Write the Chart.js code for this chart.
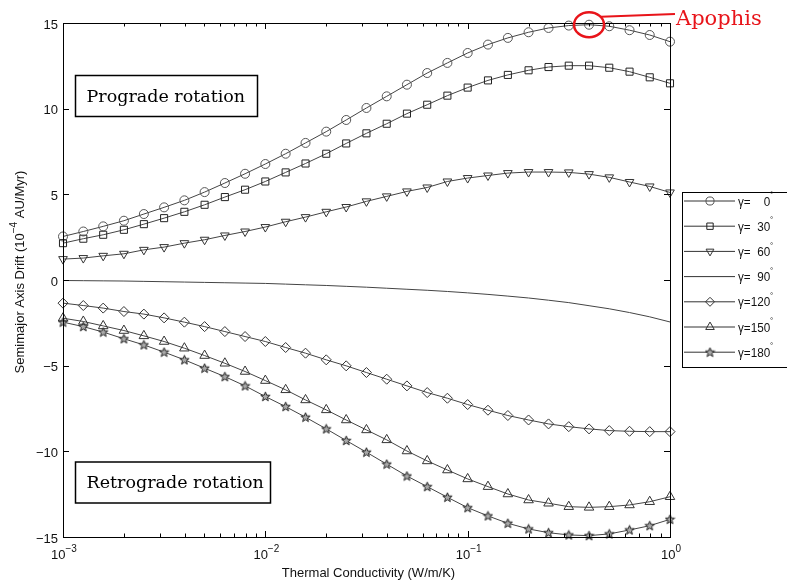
<!DOCTYPE html>
<html>
<head>
<meta charset="utf-8">
<script src="https://cdn.jsdelivr.net/npm/chart.js@4.4.0/dist/chart.umd.min.js"></script>
<style>html,body{margin:0;padding:0;background:#fff}</style>
</head>
<body>
<canvas id="myChart" width="787" height="581"></canvas>
<script>
// thermal conductivity samples (W/m/K)
const conductivity = [0.001, 0.00126, 0.00158, 0.002, 0.00251, 0.00316, 0.00398, 0.00501, 0.00631, 0.00794,
  0.01, 0.0126, 0.0158, 0.02, 0.0251, 0.0316, 0.0398, 0.0501, 0.0631, 0.0794,
  0.1, 0.126, 0.158, 0.2, 0.251, 0.316, 0.398, 0.501, 0.631, 0.794, 1];

const gamma0 = [2.54, 2.83, 3.13, 3.46, 3.85, 4.24, 4.65, 5.13, 5.66, 6.2,
  6.77, 7.37, 8.0, 8.66, 9.34, 10.04, 10.72, 11.4, 12.08, 12.67,
  13.25, 13.74, 14.13, 14.46, 14.71, 14.85, 14.9, 14.81, 14.58, 14.3, 13.91];
const gamma30 = [2.15, 2.41, 2.64, 2.93, 3.26, 3.61, 3.98, 4.39, 4.84, 5.27,
  5.75, 6.28, 6.8, 7.37, 7.97, 8.56, 9.12, 9.71, 10.23, 10.76,
  11.23, 11.65, 11.97, 12.24, 12.43, 12.51, 12.51, 12.39, 12.16, 11.83, 11.48];
const gamma60 = [1.22, 1.28, 1.41, 1.53, 1.76, 1.92, 2.15, 2.35, 2.6, 2.83,
  3.09, 3.4, 3.67, 3.98, 4.26, 4.59, 4.88, 5.17, 5.4, 5.75,
  5.95, 6.1, 6.24, 6.3, 6.3, 6.28, 6.18, 5.99, 5.72, 5.46, 5.11];
const gamma90 = [-0.03, -0.04, -0.05, -0.06, -0.08, -0.1, -0.12, -0.14, -0.16, -0.18,
  -0.2, -0.24, -0.28, -0.32, -0.37, -0.42, -0.48, -0.54, -0.6, -0.67,
  -0.75, -0.84, -0.94, -1.05, -1.18, -1.32, -1.5, -1.68, -1.9, -2.15, -2.45];
const gamma120 = [-1.35, -1.49, -1.64, -1.84, -1.99, -2.21, -2.46, -2.72, -3.01, -3.3,
  -3.59, -3.94, -4.27, -4.66, -5.01, -5.4, -5.79, -6.18, -6.57, -6.9,
  -7.27, -7.6, -7.91, -8.17, -8.4, -8.56, -8.69, -8.79, -8.83, -8.85, -8.85];
const gamma150 = [-2.23, -2.42, -2.68, -2.95, -3.26, -3.59, -3.98, -4.41, -4.86, -5.34,
  -5.87, -6.41, -7.0, -7.58, -8.17, -8.75, -9.33, -9.98, -10.56, -11.09,
  -11.61, -12.06, -12.49, -12.84, -13.03, -13.23, -13.27, -13.23, -13.13, -12.94, -12.65];
const gamma180 = [-2.46, -2.72, -3.04, -3.43, -3.79, -4.21, -4.66, -5.15, -5.64, -6.18,
  -6.8, -7.39, -8.01, -8.69, -9.37, -10.05, -10.75, -11.44, -12.06, -12.68,
  -13.29, -13.77, -14.2, -14.53, -14.75, -14.88, -14.92, -14.82, -14.59, -14.34, -13.97];

const gammaLabels = ["0", "30", "60", "90", "120", "150", "180"];
const xTicks = [0.001, 0.01, 0.1, 1];
const xTickExp = ["\u22123", "\u22122", "\u22121", "0"];
const yTicks = [-15, -10, -5, 0, 5, 10, 15];
const apophisK = 0.398;
const apophisDrift = 14.9;

const SANS = '"Liberation Sans", Arial, sans-serif';
const SERIF = '"DejaVu Serif", serif';

// pentagram marker
const starImg = document.createElement("canvas");
starImg.width = 11; starImg.height = 11;
(function () {
  const c = starImg.getContext("2d");
  c.beginPath();
  for (let k = 0; k < 10; k++) {
    const r = k % 2 ? 2.1 : 4.9;
    const a = -Math.PI / 2 + k * Math.PI / 5;
    const px = 5.5 + r * Math.cos(a), py = 5.8 + r * Math.sin(a);
    k ? c.lineTo(px, py) : c.moveTo(px, py);
  }
  c.closePath();
  c.fillStyle = "#aaa";
  c.fill();
  c.strokeStyle = "#222";
  c.lineWidth = 1;
  c.stroke();
})();

function pts(arr) {
  return arr.map((v, i) => ({ x: conductivity[i], y: v }));
}

function series(values, idx, style, color, radius, rot) {
  return {
    label: "\u03b3=" + gammaLabels[idx],
    data: pts(values),
    borderColor: "#444",
    borderWidth: 1,
    pointStyle: style,
    pointRadius: radius,
    pointRotation: rot || 0,
    pointBorderColor: color,
    pointBackgroundColor: "rgba(0,0,0,0)",
    pointBorderWidth: 1,
    tension: 0,
    clip: false
  };
}

const datasets = [
  series(gamma0, 0, "circle", "#555", 4.5),
  series(gamma30, 1, "rect", "#222", 5),
  series(gamma60, 2, "triangle", "#333", 5, 180),
  series(gamma90, 3, "circle", "#444", 0),
  series(gamma120, 4, "rectRot", "#333", 5),
  series(gamma150, 5, "triangle", "#333", 5.5),
  series(gamma180, 6, starImg, "#333", 5)
];

function supText(ctx, base, sup, x, y, align) {
  ctx.font = "13px " + SANS;
  const w1 = ctx.measureText(base).width;
  ctx.font = "10px " + SANS;
  const w2 = ctx.measureText(sup).width;
  let x0 = align === "center" ? x - (w1 + w2) / 2 : x;
  ctx.textAlign = "left";
  ctx.textBaseline = "alphabetic";
  ctx.font = "13px " + SANS;
  ctx.fillText(base, x0, y);
  ctx.font = "10px " + SANS;
  ctx.fillText(sup, x0 + w1, y - 7);
}

const axesPlugin = {
  id: "matlabAxes",
  afterDatasetsDraw(chart) {
    const { ctx, chartArea: a, scales } = chart;
    const xs = scales.x, ys = scales.y;
    ctx.save();
    ctx.strokeStyle = "#000";
    ctx.lineWidth = 1;
    ctx.strokeRect(a.left + 0.5, a.top + 0.5, a.right - a.left, a.bottom - a.top);
    ctx.beginPath();
    // log ticks, top and bottom
    for (let d = 0; d < 3; d++) {
      for (let m = 1; m <= 10; m++) {
        const v = xTicks[d] * m;
        const px = Math.round(xs.getPixelForValue(v)) + 0.5;
        const len = (m === 1 || m === 10) ? 6 : 3.5;
        ctx.moveTo(px, a.bottom); ctx.lineTo(px, a.bottom - len);
        ctx.moveTo(px, a.top); ctx.lineTo(px, a.top + len);
      }
    }
    yTicks.forEach(v => {
      const py = Math.round(ys.getPixelForValue(v)) + 0.5;
      ctx.moveTo(a.left, py); ctx.lineTo(a.left + 6, py);
      ctx.moveTo(a.right, py); ctx.lineTo(a.right - 6, py);
    });
    ctx.stroke();

    // tick labels
    ctx.fillStyle = "#111";
    ctx.font = "13px " + SANS;
    ctx.textAlign = "right";
    ctx.textBaseline = "middle";
    yTicks.forEach(v => {
      const txt = v < 0 ? "\u2212" + Math.abs(v) : String(v);
      ctx.fillText(txt, a.left - 5, ys.getPixelForValue(v) + 2);
    });
    xTicks.forEach((v, i) => {
      supText(ctx, "10", xTickExp[i], xs.getPixelForValue(v) + 1, 559, "center");
    });

    // axis titles
    ctx.font = "13px " + SANS;
    ctx.textAlign = "center";
    ctx.textBaseline = "alphabetic";
    ctx.fillText("Thermal Conductivity (W/m/K)", (a.left + a.right) / 2 + 2, 577);

    ctx.save();
    ctx.translate(24, 272);
    ctx.rotate(-Math.PI / 2);
    const p1 = "Semimajor Axis Drift (10", p2 = "\u22124", p3 = " AU/Myr)";
    ctx.font = "13px " + SANS;
    const w1 = ctx.measureText(p1).width, w3 = ctx.measureText(p3).width;
    ctx.font = "10px " + SANS;
    const w2 = ctx.measureText(p2).width;
    let x0 = -(w1 + w2 + w3) / 2;
    ctx.textAlign = "left";
    ctx.font = "13px " + SANS;
    ctx.fillText(p1, x0, 0);
    ctx.font = "10px " + SANS;
    ctx.fillText(p2, x0 + w1, -7);
    ctx.font = "13px " + SANS;
    ctx.fillText(p3, x0 + w1 + w2, 0);
    ctx.restore();
    ctx.restore();
  },
  afterDraw(chart) {
    const { ctx, scales } = chart;
    ctx.save();
    // text boxes
    function box(txt, x, y, w, h) {
      ctx.fillStyle = "#fff";
      ctx.fillRect(x, y, w, h);
      ctx.strokeStyle = "#000";
      ctx.lineWidth = 1.5;
      ctx.strokeRect(x, y, w, h);
      ctx.fillStyle = "#000";
      ctx.font = "17.5px " + SERIF;
      ctx.textAlign = "left";
      ctx.textBaseline = "middle";
      ctx.fillText(txt, x + 11, y + h / 2 + 1);
    }
    box("Prograde rotation", 75.5, 75.5, 182, 41);
    box("Retrograde rotation", 75.5, 462, 195, 41);

    // legend
    const lx = 682.5, ly = 192.5;
    ctx.fillStyle = "#fff";
    ctx.fillRect(lx, ly, 120, 175);
    ctx.strokeStyle = "#000";
    ctx.lineWidth = 1;
    ctx.strokeRect(lx, ly, 120, 175);
    chart.data.datasets.forEach((ds, i) => {
      const y = 201 + i * 25.2;
      ctx.strokeStyle = "#333";
      ctx.lineWidth = 1;
      ctx.beginPath();
      ctx.moveTo(684, y); ctx.lineTo(735, y);
      ctx.stroke();
      if (ds.pointRadius > 0) {
        ctx.strokeStyle = ds.pointBorderColor;
        ctx.fillStyle = "rgba(0,0,0,0)";
        Chart.helpers.drawPoint(ctx, {
          pointStyle: ds.pointStyle, rotation: ds.pointRotation,
          radius: ds.pointRadius * 0.9, borderWidth: 1
        }, 710, y);
      }
      ctx.fillStyle = "#111";
      ctx.save();
      ctx.translate(738, y + 1);
      ctx.scale(0.9, 1);
      ctx.font = "13px " + SANS;
      ctx.textBaseline = "middle";
      ctx.textAlign = "left";
      ctx.fillText("\u03b3=" + gammaLabels[i].padStart(3, "\u2007"), 0, 0);
      ctx.restore();
      ctx.font = "8px " + SANS;
      ctx.textAlign = "left";
      ctx.textBaseline = "middle";
      ctx.fillText("\u00b0", 770, y - 6);
    });

    // Apophis marker
    const cx = scales.x.getPixelForValue(apophisK);
    const cy = scales.y.getPixelForValue(apophisDrift);
    ctx.strokeStyle = "#e8141a";
    ctx.lineWidth = 2.5;
    ctx.beginPath();
    ctx.ellipse(cx, cy, 15, 12.5, 0, 0, Math.PI * 2);
    ctx.stroke();
    ctx.lineWidth = 2;
    ctx.beginPath();
    ctx.moveTo(cx + 12, cy - 8);
    ctx.lineTo(675, 14);
    ctx.stroke();
    ctx.fillStyle = "#e8141a";
    ctx.font = "21px " + SERIF;
    ctx.textAlign = "left";
    ctx.textBaseline = "alphabetic";
    ctx.fillText("Apophis", 676, 25);
    ctx.restore();
  }
};

const config = {
  type: "line",
  data: { datasets: datasets },
  options: {
    responsive: false,
    animation: false,
    layout: { padding: { left: 63, top: 23, right: 117, bottom: 44 } },
    scales: {
      x: { type: "logarithmic", min: 0.001, max: 1, display: false },
      y: { type: "linear", min: -15, max: 15, display: false }
    },
    plugins: { legend: { display: false }, tooltip: { enabled: false } }
  },
  plugins: [axesPlugin]
};

const myChart = new Chart(document.getElementById("myChart"), config);
</script>
</body>
</html>
